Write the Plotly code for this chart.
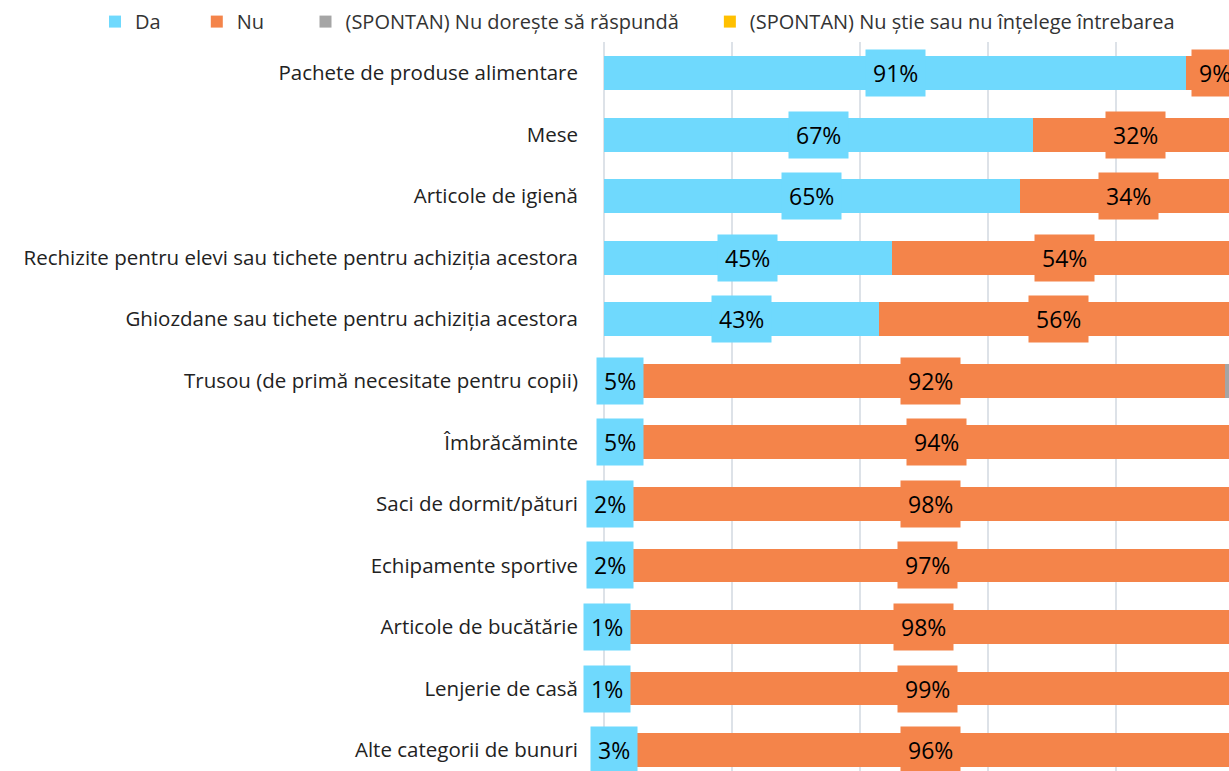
import plotly.graph_objects as go

categories = [
    "Pachete de produse alimentare",
    "Mese",
    "Articole de igienă",
    "Rechizite pentru elevi sau tichete pentru achiziția acestora",
    "Ghiozdane sau tichete pentru achiziția acestora",
    "Trusou (de primă necesitate pentru copii)",
    "Îmbrăcăminte",
    "Saci de dormit/pături",
    "Echipamente sportive",
    "Articole de bucătărie",
    "Lenjerie de casă",
    "Alte categorii de bunuri",
]
da = [91, 67, 65, 45, 43, 5, 5, 2, 2, 1, 1, 3]
nu = [9, 32, 34, 54, 56, 92, 94, 98, 97, 98, 99, 96]
nu_doreste = [0, 1, 1, 1, 1, 2, 1, 0, 1, 1, 0, 1]
nu_stie = [0, 0, 0, 0, 0, 1, 0, 0, 0, 0, 0, 0]

series = [
    ("Da", da, "#6FD9FD"),
    ("Nu", nu, "#F4844A"),
    ("(SPONTAN) Nu dorește să răspundă", nu_doreste, "#A5A5A5"),
    ("(SPONTAN) Nu știe sau nu înțelege întrebarea", nu_stie, "#FFC000"),
]

NB = "\u00a0"
pads = [6, 7, 5, 0]

fig = go.Figure()
for (name, vals, col), p in zip(series, pads):
    fig.add_trace(go.Bar(
        y=categories, x=vals, orientation="h", name=name + NB * p,
        marker=dict(color=col, line=dict(width=0)), width=0.55,
    ))

annotations = []
base = [0] * len(categories)
for name, vals, col in series:
    for i, v in enumerate(vals):
        if name in ("Da", "Nu") and v > 0:
            annotations.append(dict(
                x=base[i] + v / 2, y=categories[i], xref="x", yref="y",
                text=f"{v}%", showarrow=False, bgcolor=col, borderpad=7,
                font=dict(family="Open Sans", size=23, color="#000000"),
            ))
        base[i] += v

fig.update_layout(
    width=1229, height=771,
    margin=dict(l=604, r=0, t=42, b=0),
    barmode="stack",
    bargap=0.45,
    plot_bgcolor="white", paper_bgcolor="white",
    font=dict(family="Open Sans", size=20, color="#222222"),
    xaxis=dict(range=[0, 97.66], dtick=20, showgrid=True, gridcolor="#DDE2E8",
               gridwidth=1.5, showticklabels=False, zeroline=True,
               zerolinecolor="#DDE2E8", zerolinewidth=1.5),
    yaxis=dict(categoryorder="array", categoryarray=categories,
               range=[11.34, -0.504], ticks="", ticklabelstandoff=25,
               tickfont=dict(family="Open Sans", size=20.5, color="#222222")),
    legend=dict(orientation="h", x=-0.8144, xanchor="left", y=1.028, yanchor="middle",
                font=dict(family="Open Sans", size=20, color="#333333"),
                traceorder="normal", itemclick=False),
    annotations=annotations,
)

fig.write_html("out.html", config={"displayModeBar": False},
               post_script="document.body.style.margin='0';document.body.style.overflow='hidden';")
